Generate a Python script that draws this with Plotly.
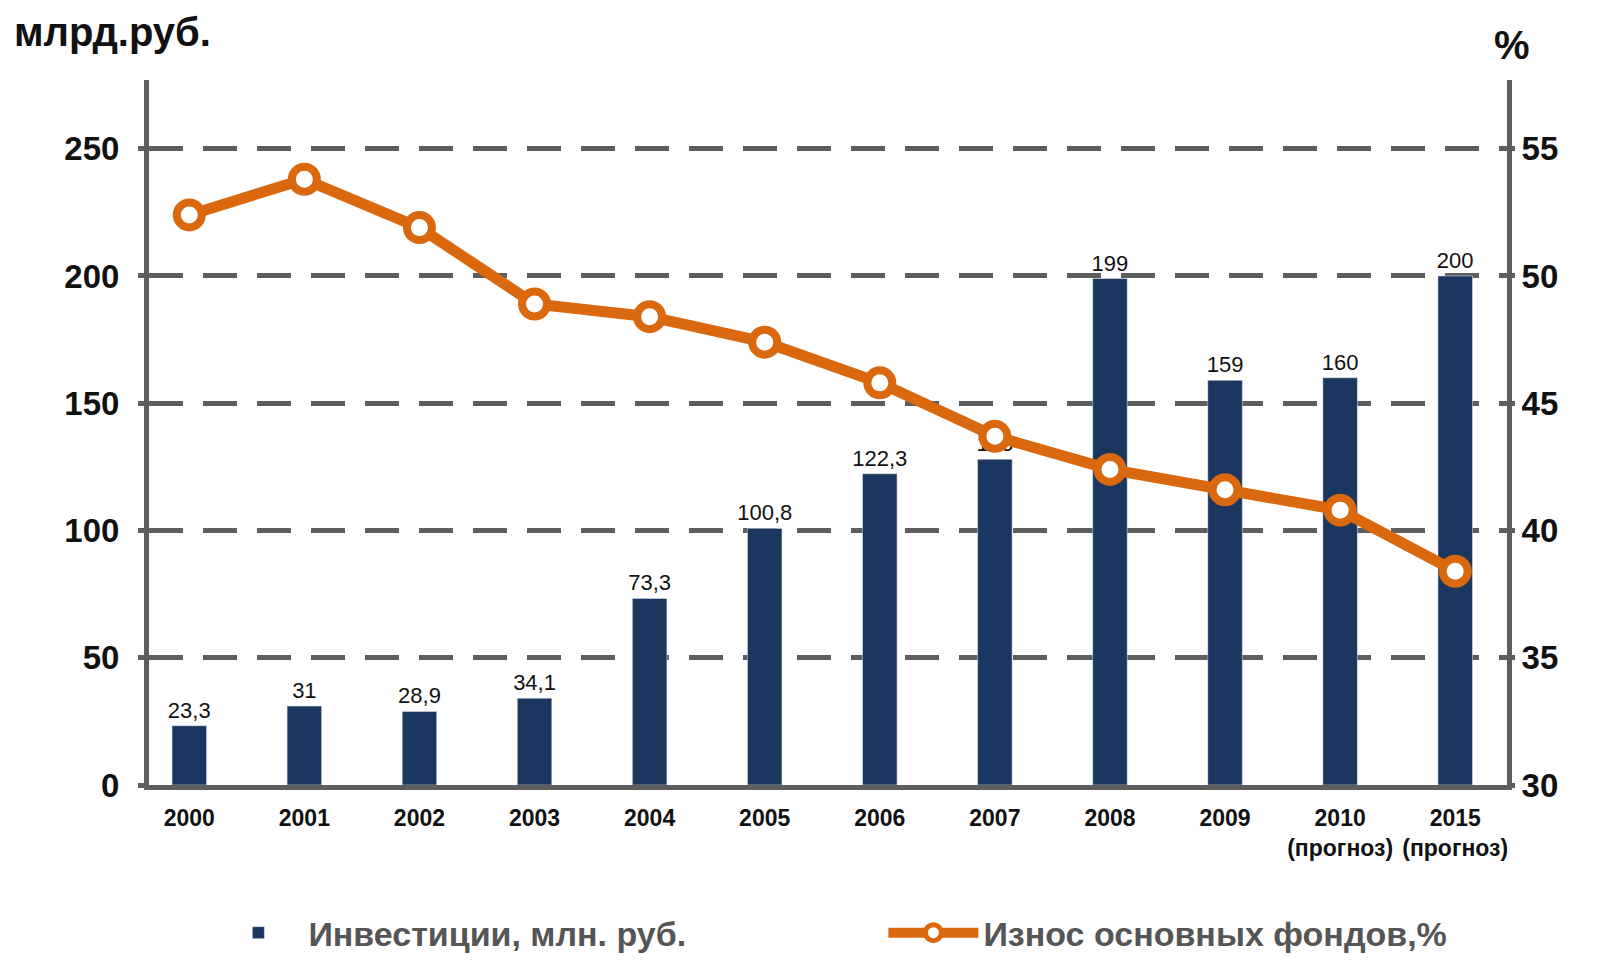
import plotly.graph_objects as go

years = ["2000", "2001", "2002", "2003", "2004", "2005", "2006", "2007",
         "2008", "2009", "2010<br>(прогноз)", "2015<br>(прогноз)"]
investments = [23.3, 31, 28.9, 34.1, 73.3, 100.8, 122.3, 128, 199, 159, 160, 200]
wear = [52.4, 53.8, 51.9, 48.9, 48.4, 47.4, 45.8, 43.7, 42.4, 41.6, 40.8, 38.4]

bar_labels = [str(v).replace(".", ",") for v in investments]

NAVY = "#1b365f"
ORANGE = "#d9680f"
GRID = "#5e5e5e"
FONT = "Liberation Sans, Arial, sans-serif"

fig = go.Figure()

fig.add_trace(
    go.Bar(
        x=years,
        y=investments,
        name="Инвестиции, млн. руб.",
        marker=dict(color=NAVY),
        width=0.3,
        text=bar_labels,
        textposition="outside",
        constraintext="none",
        cliponaxis=False,
        textfont=dict(family=FONT, size=22, color="#111"),
    )
)

fig.add_trace(
    go.Scatter(
        x=years,
        y=wear,
        yaxis="y2",
        name="Износ основных фондов,%",
        mode="lines+markers",
        line=dict(color=ORANGE, width=11),
        marker=dict(size=25, color="white", line=dict(color=ORANGE, width=8)),
    )
)

fig.update_layout(
    width=1603,
    height=975,
    paper_bgcolor="white",
    plot_bgcolor="white",
    margin=dict(l=141, r=104, t=72, b=198, autoexpand=False),
    font=dict(family=FONT, color="#111"),
    xaxis=dict(
        type="category",
        range=[-0.35, 11.45],
        showline=True,
        linecolor=GRID,
        linewidth=5,
        showgrid=False,
        ticks="",
        tickangle=0,
        ticklabelstandoff=8,
        tickfont=dict(family=FONT, size=23, color="#111", weight="bold"),
    ),
    yaxis=dict(
        range=[0, 277],
        tickvals=[0, 50, 100, 150, 200, 250],
        showgrid=False,
        zeroline=False,
        showline=True,
        linecolor=GRID,
        linewidth=5,
        ticks="outside",
        ticklen=6,
        tickwidth=5,
        tickcolor=GRID,
        ticklabelstandoff=12,
        tickfont=dict(family=FONT, size=33, color="#111", weight="bold"),
    ),
    yaxis2=dict(
        overlaying="y",
        side="right",
        range=[30, 57.7],
        tickvals=[30, 35, 40, 45, 50, 55],
        showgrid=True,
        gridcolor=GRID,
        gridwidth=5,
        griddash="34px,20px",
        zeroline=False,
        showline=True,
        linecolor=GRID,
        linewidth=5,
        ticks="outside",
        ticklen=3,
        tickwidth=5,
        tickcolor=GRID,
        tickfont=dict(family=FONT, size=33, color="#111", weight="bold"),
    ),
    legend=dict(
        orientation="h",
        xref="container",
        x=0.125,
        xanchor="left",
        y=-0.21,
        yanchor="middle",
        entrywidth=570,
        entrywidthmode="pixels",
        itemwidth=90,
        font=dict(family="Liberation Sans Narrow, Liberation Sans, Arial", size=34,
                  color="#555", weight="bold"),
    ),
    annotations=[
        dict(text="млрд.руб.", xref="paper", yref="paper", x=-0.101, y=1.068,
             xanchor="left", yanchor="middle", showarrow=False,
             font=dict(family=FONT, size=40, color="#111", weight="bold")),
        dict(text="%", xref="paper", yref="paper", x=1.004, y=1.05,
             xanchor="center", yanchor="middle", showarrow=False,
             font=dict(family=FONT, size=40, color="#111", weight="bold")),
    ],
)

fig.write_html("out.html")
